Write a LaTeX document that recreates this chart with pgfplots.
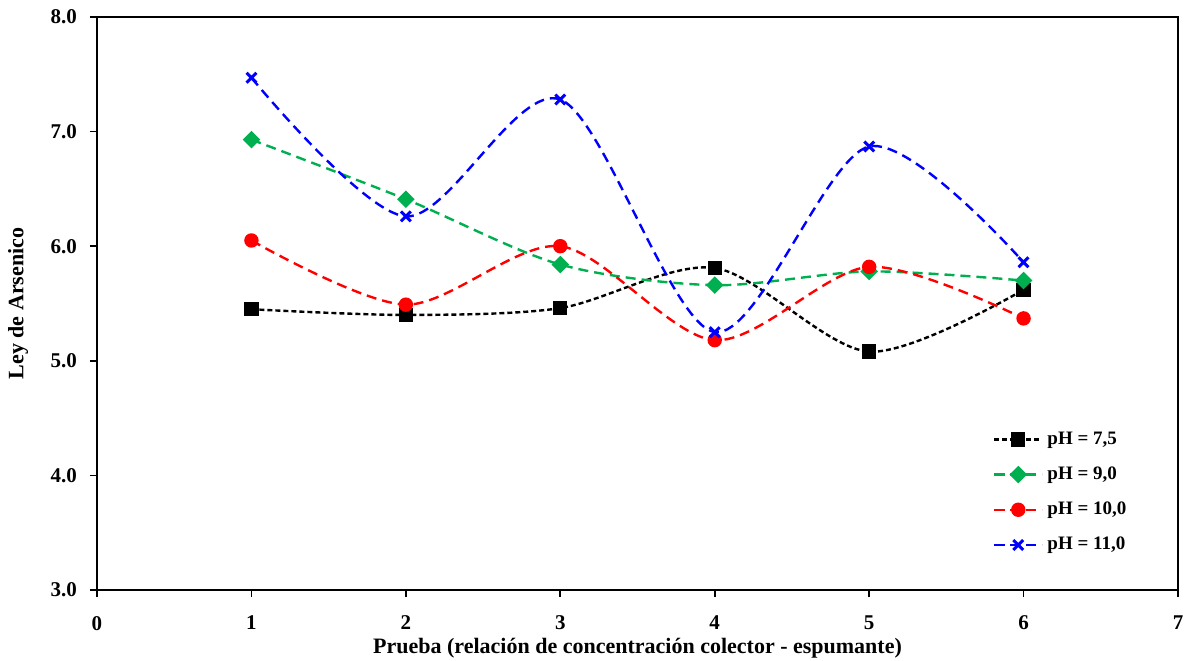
\documentclass[border=0pt]{standalone}
\usepackage{fontspec}
\setmainfont{Liberation Serif}
\usepackage{pgfplots}
\pgfplotsset{compat=1.18}
\definecolor{xgreen}{RGB}{0,176,80}
\begin{document}
\begin{tikzpicture}
\begin{axis}[
  name=ax,
  scale only axis,
  width=540.5pt, height=286.5pt,
  xmin=0, xmax=7, ymin=3, ymax=8,
  xtick={0,1,...,7}, ytick={3,4,...,8},
  axis line style={line width=0.9pt},
  tick style={line width=0.8pt, black},
  tick align=outside, tickpos=left,
  major tick length=3.5pt,
  /pgf/number format/assume math mode=true,
  ticklabel style={font=\bfseries\fontsize{10.5}{12}\selectfont},
  yticklabel style={xshift=-3pt, /pgf/number format/.cd, fixed, fixed zerofill, precision=1},
  xticklabel style={yshift=-6pt},
  xlabel={\bfseries Prueba (relación de concentración colector - espumante)},
  ylabel={\bfseries Ley de Arsenico},
  label style={font=\bfseries\fontsize{11}{13}\selectfont},
  xlabel style={at={(axis description cs:0.5,0)}, anchor=base, yshift=-31.5pt},
  ylabel style={at={(axis description cs:0,0.5)}, anchor=center, yshift=39.5pt},
  legend style={at={(0.823,0.291)}, anchor=north west, draw=none, fill=none,
    font=\bfseries\fontsize{9.5}{11}\selectfont, row sep=5.8pt},
  legend cell align=left,
  legend image code/.code={
    \draw[mark repeat=2,mark phase=2] plot coordinates {(0pt,0pt) (12pt,0pt) (24pt,0pt)};
  },
]
\addplot[black, line width=1.2pt, dash pattern=on 2.5pt off 1.5pt, smooth, mark=square*, mark size=3pt, mark options={solid}]
  coordinates {(1,5.45) (2,5.40) (3,5.46) (4,5.81) (5,5.08) (6,5.62)};
\addlegendentry{pH = 7,5}
\addplot[xgreen, line width=1.2pt, dash pattern=on 5pt off 3pt, smooth, mark=square*, mark size=2.5pt, mark options={solid, rotate=45}]
  coordinates {(1,6.93) (2,6.41) (3,5.84) (4,5.66) (5,5.78) (6,5.70)};
\addlegendentry{pH = 9,0}
\addplot[red, line width=1.2pt, dash pattern=on 5pt off 3pt, smooth, mark=*, mark size=3pt, mark options={solid}]
  coordinates {(1,6.05) (2,5.49) (3,6.00) (4,5.18) (5,5.82) (6,5.37)};
\addlegendentry{pH = 10,0}
\addplot[blue, line width=1.2pt, dash pattern=on 5pt off 3pt, smooth, mark=x, mark size=3.5pt, mark options={solid, line width=1.5pt}]
  coordinates {(1,7.47) (2,6.26) (3,7.28) (4,5.25) (5,6.87) (6,5.86)};
\addlegendentry{pH = 11,0}
\end{axis}
\pgfresetboundingbox
\path ([xshift=-48.5pt,yshift=-35pt]ax.south west) rectangle ([xshift=4pt,yshift=8.5pt]ax.north east);
\end{tikzpicture}
\end{document}
